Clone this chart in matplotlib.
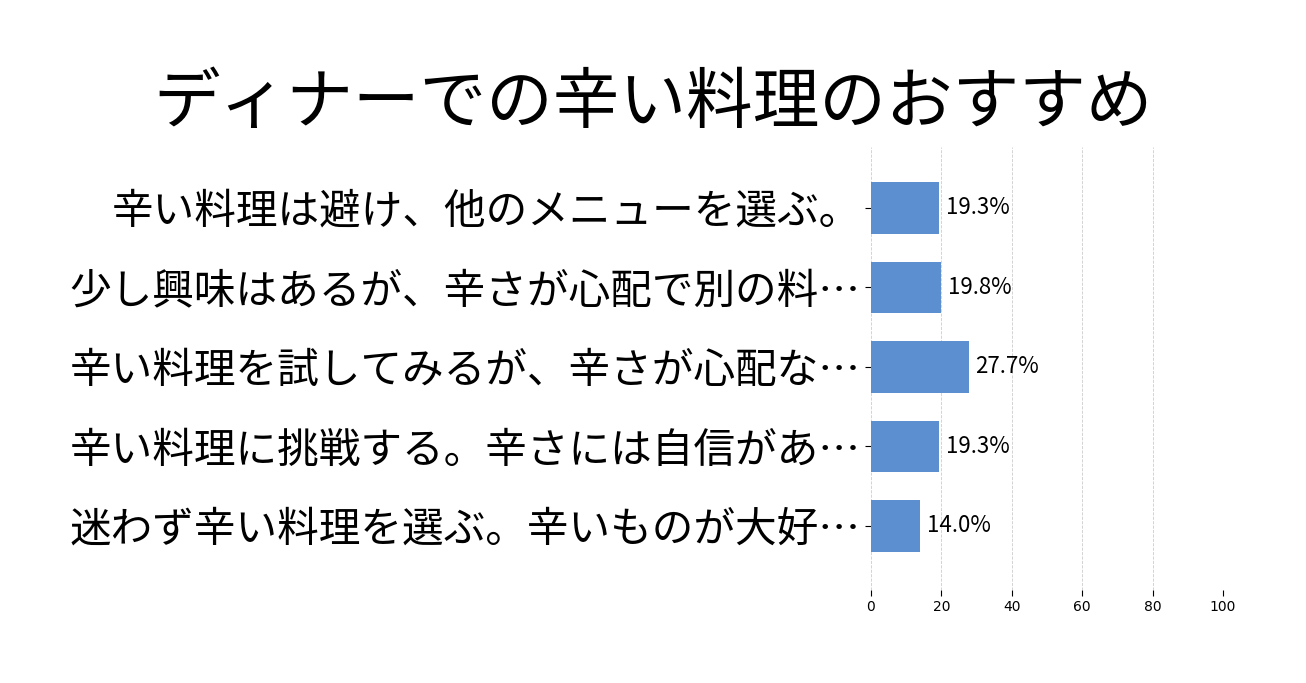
import matplotlib
matplotlib.use("Agg")
import matplotlib.pyplot as plt

categories = [
    "辛い料理は避け、他のメニューを選ぶ。",
    "少し興味はあるが、辛さが心配で別の料…",
    "辛い料理を試してみるが、辛さが心配な…",
    "辛い料理に挑戦する。辛さには自信があ…",
    "迷わず辛い料理を選ぶ。辛いものが大好…",
]
values = [19.3, 19.8, 27.7, 19.3, 14.0]
title = "ディナーでの辛い料理のおすすめ"
xticks = [0, 20, 40, 60, 80, 100]

plt.rcParams['font.family'] = ['Noto Sans CJK JP', 'DejaVu Sans']

fig = plt.figure(figsize=(13.06, 6.83), dpi=100)
ax = fig.add_axes([871/1306, 1 - 590/683, (1223-871)/1306, (590-147)/683])

pos = list(range(len(categories)))
ax.barh(pos, values, height=0.65, color='#5b8fd0', zorder=2)
for p, v in zip(pos, values):
    ax.text(v + 2, p, f"{v:.1f}%", ha='left', va='center', fontsize=16, zorder=3)

ax.set_yticks(pos)
ax.set_yticklabels(categories, fontsize=30)
ax.set_ylim(4.805, -0.767)
ax.set_xlim(0, 100)
ax.set_xticks(xticks)
ax.set_xticklabels([str(t) for t in xticks], fontsize=10, family='DejaVu Sans')
ax.grid(axis='x', linestyle='--', color='#cccccc', linewidth=0.6, zorder=0)
for s in ax.spines.values():
    s.set_visible(False)
ax.tick_params(axis='both', length=4)

fig.text(0.5, 1 - 104/683, title, ha='center', va='center', fontsize=48)

fig.savefig("out.png", dpi=100)
